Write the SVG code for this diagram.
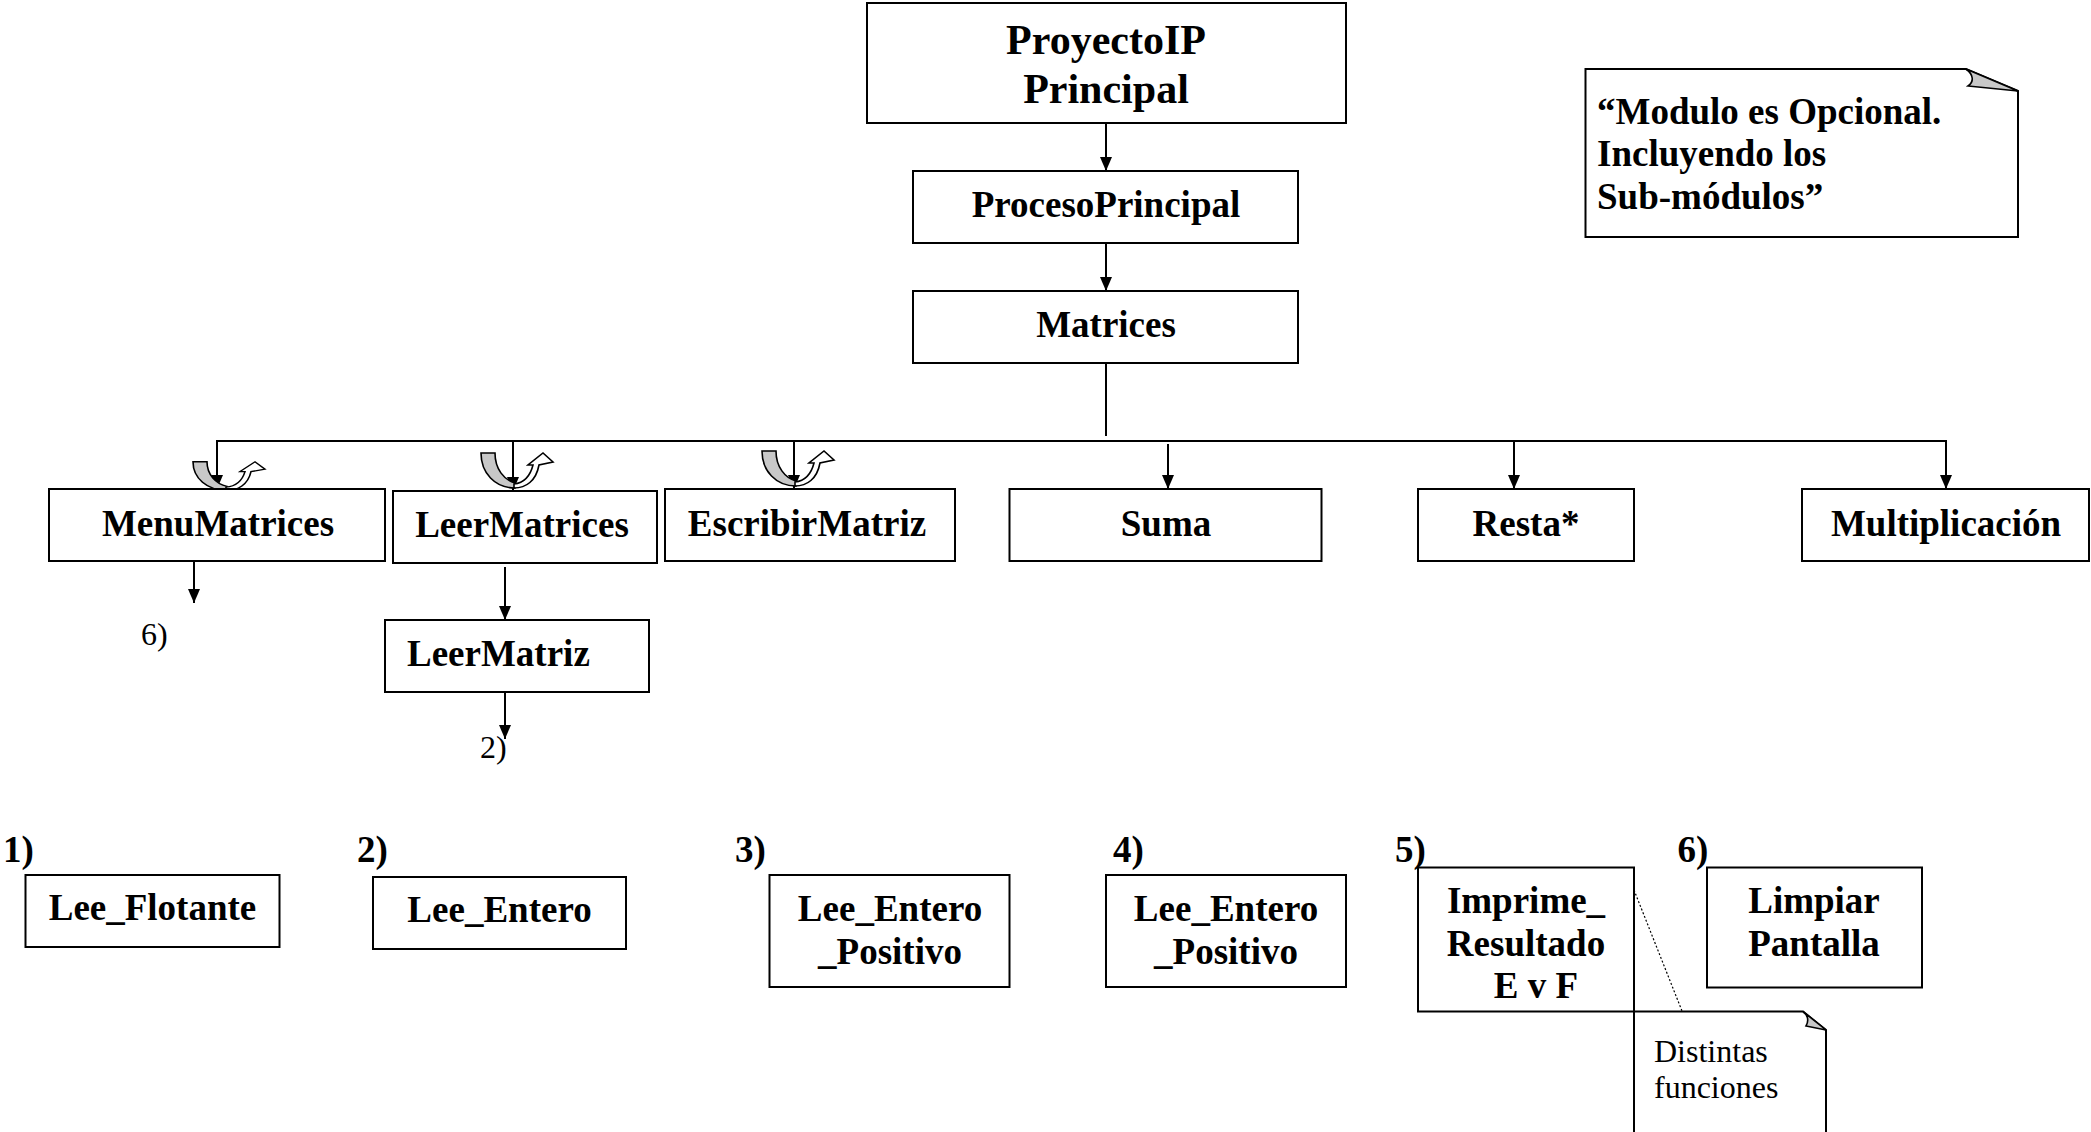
<svg xmlns="http://www.w3.org/2000/svg" width="2091" height="1132" viewBox="0 0 2091 1132">
<style>
.box{fill:#fff;stroke:#000;stroke-width:2}
.t{font-family:"Liberation Serif","Times New Roman",serif;font-weight:bold;font-size:37px;text-anchor:middle;fill:#000}
.tl{font-family:"Liberation Serif","Times New Roman",serif;font-weight:bold;font-size:37px;fill:#000}
.r{font-family:"Liberation Serif","Times New Roman",serif;font-size:32px;fill:#000}
.c{stroke:#000;stroke-width:2;fill:none}
.grey{fill:#c8c8c8;stroke:#000;stroke-width:1.6}
.white{fill:#fff;stroke:#000;stroke-width:1.6}
</style>
<defs>
<marker id="ah" viewBox="0 0 14 12" refX="14" refY="6" markerWidth="14" markerHeight="12" markerUnits="userSpaceOnUse" orient="auto">
<path d="M0,0 L14,6 L0,12 Z" fill="#000"/>
</marker>
<g id="couple">
<path class="grey" d="M -32 -32 H -18 C -18 -16 -9 -5 2 -2 L 2 3 C -18 3 -32 -12 -32 -32 Z"/>
<path class="white" d="M 1 -1 C 10 -2 17 -8 20 -20 L 15 -20 L 30 -32 L 40 -23 L 26 -20 C 23 -4 13 3 1 3 Z"/>
</g>
</defs>
<rect width="2091" height="1132" fill="#fff"/>

<g id="connectors">
<line class="c" x1="1106" y1="123" x2="1106" y2="171" marker-end="url(#ah)"/>
<line class="c" x1="1106" y1="243" x2="1106" y2="291" marker-end="url(#ah)"/>
<line class="c" x1="1106" y1="363" x2="1106" y2="436"/>
<line class="c" x1="216" y1="441" x2="1947" y2="441"/>
<line class="c" x1="217" y1="441" x2="217" y2="489" marker-end="url(#ah)"/>
<line class="c" x1="513" y1="441" x2="513" y2="491" marker-end="url(#ah)"/>
<line class="c" x1="794" y1="441" x2="794" y2="489" marker-end="url(#ah)"/>
<line class="c" x1="1168" y1="444" x2="1168" y2="489" marker-end="url(#ah)"/>
<line class="c" x1="1514" y1="441" x2="1514" y2="489" marker-end="url(#ah)"/>
<line class="c" x1="1946" y1="441" x2="1946" y2="489" marker-end="url(#ah)"/>
<line class="c" x1="194" y1="555" x2="194" y2="603" marker-end="url(#ah)"/>
<line class="c" x1="505" y1="567" x2="505" y2="620" marker-end="url(#ah)"/>
<line class="c" x1="505" y1="693" x2="505" y2="739" marker-end="url(#ah)"/>
<use href="#couple" transform="translate(225,488) scale(1,0.82)"/>
<use href="#couple" transform="translate(513,485)"/>
<use href="#couple" transform="translate(794,483)"/>
<line x1="1634" y1="890" x2="1682" y2="1011" stroke="#000" stroke-width="1.2" stroke-dasharray="2,2"/>
</g>

<g id="proyecto">
<rect class="box" x="867" y="3" width="479" height="120"/>
<text class="t" style="font-size:42px" x="1106" y="54">ProyectoIP</text>
<text class="t" style="font-size:42px" x="1106" y="103">Principal</text>
</g>
<g id="procesoPrincipal">
<rect class="box" x="913" y="171" width="385" height="72"/>
<text class="t" x="1106" y="217">ProcesoPrincipal</text>
</g>
<g id="matrices">
<rect class="box" x="913" y="291" width="385" height="72"/>
<text class="t" x="1106" y="337">Matrices</text>
</g>

<g id="nota-opcional">
<path class="box" d="M 1585.5 69 H 1966 L 2018 91 V 237 H 1585.5 Z"/>
<path class="grey" d="M 1966 69 C 1974 75 1974 82 1968 86 L 2018 91 Z"/>
<text class="tl" x="1597" y="124">“Modulo es Opcional.</text>
<text class="tl" x="1597" y="166">Incluyendo los</text>
<text class="tl" x="1597" y="209">Sub-módulos”</text>
</g>

<g id="menuMatrices">
<rect class="box" x="49" y="489" width="336" height="72"/>
<text class="t" x="218" y="536">MenuMatrices</text>
</g>
<g id="leerMatrices">
<rect class="box" x="393" y="491" width="264" height="72"/>
<text class="t" x="522" y="537">LeerMatrices</text>
</g>
<g id="escribirMatriz">
<rect class="box" x="665" y="489" width="290" height="72"/>
<text class="t" x="807" y="536">EscribirMatriz</text>
</g>
<g id="suma">
<rect class="box" x="1009.5" y="489" width="312" height="72"/>
<text class="t" x="1166" y="536">Suma</text>
</g>
<g id="resta">
<rect class="box" x="1418" y="489" width="216" height="72"/>
<text class="t" x="1526" y="536">Resta*</text>
</g>
<g id="multiplicacion">
<rect class="box" x="1802" y="489" width="287" height="72"/>
<text class="t" x="1946" y="536">Multiplicación</text>
</g>
<g id="leerMatriz">
<rect class="box" x="385" y="620" width="264" height="72"/>
<text class="tl" x="407" y="666">LeerMatriz</text>
</g>
<g id="ref6">
<text class="r" x="141" y="645">6)</text>
</g>
<g id="ref2">
<text class="r" x="480" y="758">2)</text>
</g>

<g id="lee-flotante">
<text class="tl" x="3" y="862">1)</text>
<rect class="box" x="25.5" y="875" width="254" height="72"/>
<text class="t" x="152.5" y="920">Lee_Flotante</text>
</g>
<g id="lee-entero">
<text class="tl" x="357" y="862">2)</text>
<rect class="box" x="373" y="877" width="253" height="72"/>
<text class="t" x="499.5" y="922">Lee_Entero</text>
</g>
<g id="lee-entero-positivo-3">
<text class="tl" x="735" y="862">3)</text>
<rect class="box" x="769.5" y="875" width="240" height="112"/>
<text class="t" x="890" y="921">Lee_Entero</text>
<text class="t" x="890" y="964">_Positivo</text>
</g>
<g id="lee-entero-positivo-4">
<text class="tl" x="1113" y="862">4)</text>
<rect class="box" x="1106" y="875" width="240" height="112"/>
<text class="t" x="1226" y="921">Lee_Entero</text>
<text class="t" x="1226" y="964">_Positivo</text>
</g>
<g id="imprime">
<text class="tl" x="1395" y="862">5)</text>
<rect class="box" x="1418" y="867.5" width="216" height="144"/>
<text class="t" x="1526" y="913">Imprime_</text>
<text class="t" x="1526" y="956">Resultado</text>
<text class="t" x="1536" y="998">E v F</text>
</g>
<g id="limpiar">
<text class="tl" x="1677.5" y="862">6)</text>
<rect class="box" x="1707" y="867.5" width="215" height="120"/>
<text class="t" x="1814" y="913">Limpiar</text>
<text class="t" x="1814" y="956">Pantalla</text>
</g>
<g id="nota-distintas">
<path class="box" d="M 1634 1145 V 1011.5 H 1803 L 1826 1030 V 1145"/>
<path class="grey" d="M 1803 1011.5 C 1808 1015 1809 1021 1806 1026 L 1826 1030 Z"/>
<text class="r" x="1654" y="1062">Distintas</text>
<text class="r" x="1654" y="1098">funciones</text>
</g>
</svg>
